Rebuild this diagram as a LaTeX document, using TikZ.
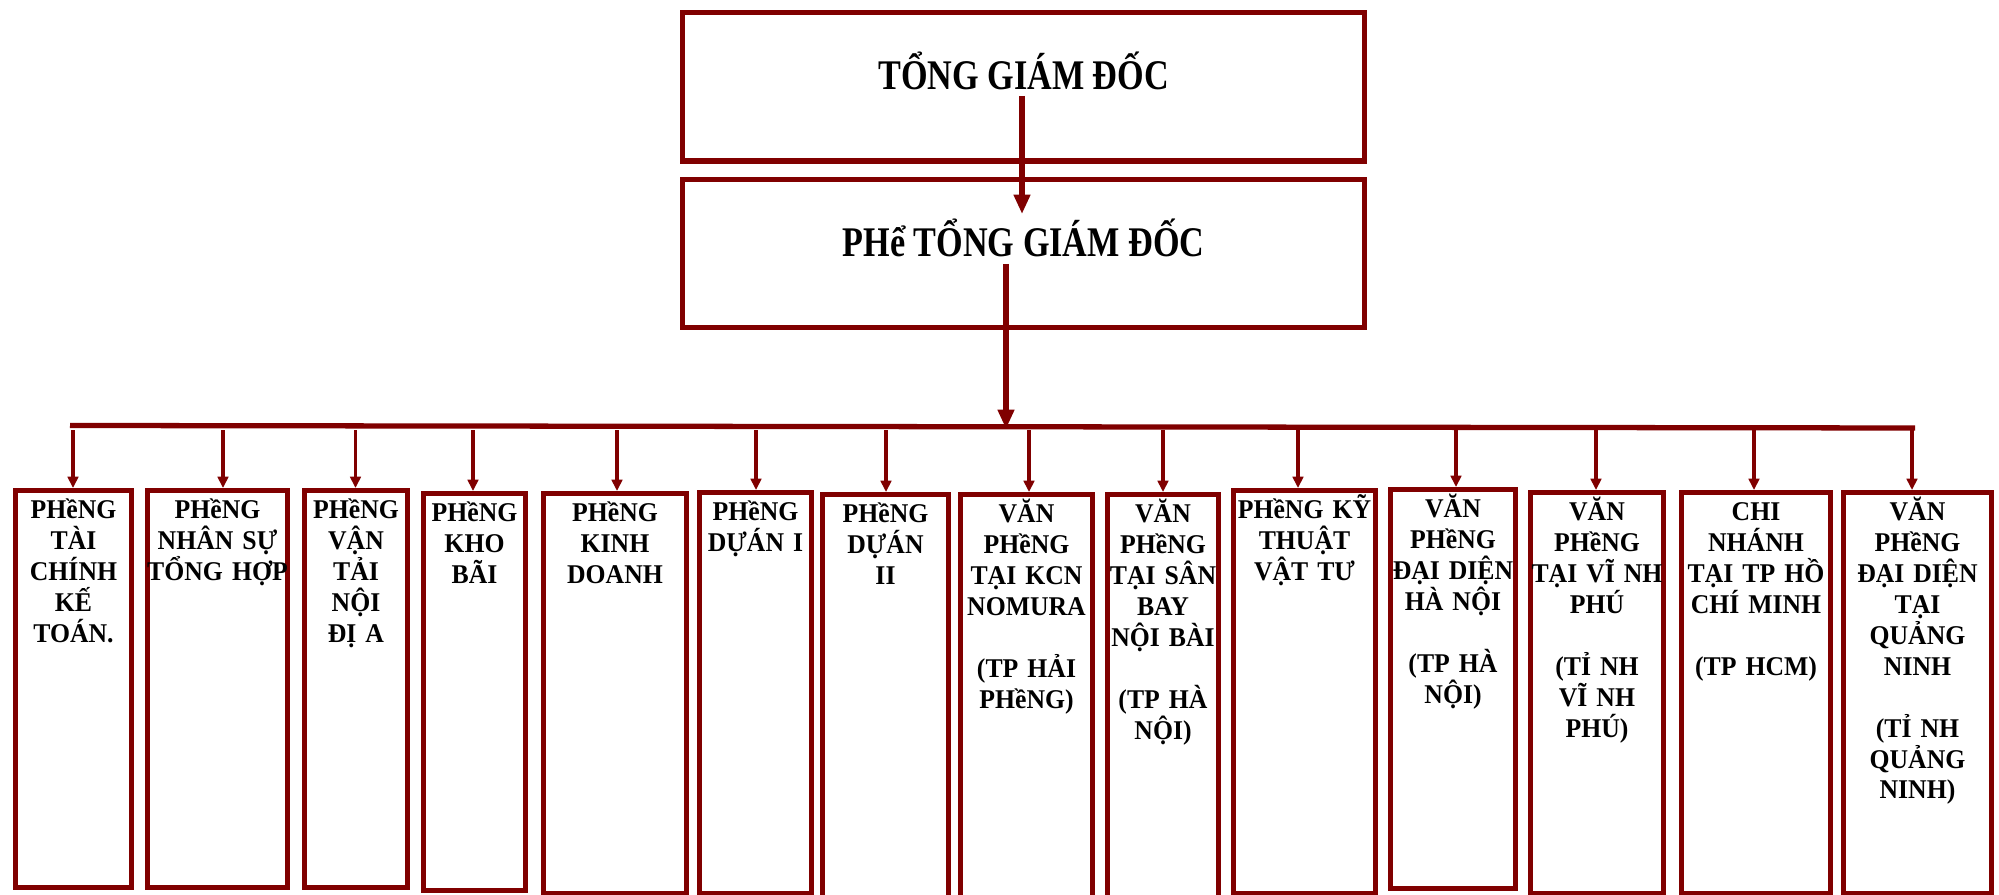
\documentclass[tikz,border=0pt]{standalone}
\usepackage{fontspec}
\setmainfont{Liberation Serif}
\newfontfamily\headfont{Liberation Serif}[FakeStretch=0.81]
\newfontfamily\deptfont{Liberation Serif}[FakeStretch=0.95]
\usetikzlibrary{arrows.meta,positioning,calc}
\definecolor{chartred}{RGB}{128,0,0}

\begin{document}
\begin{tikzpicture}[x=0.01cm, y=-0.01cm,
  headbox/.style={draw=chartred, line width=1.55pt, minimum width=6.82cm, inner sep=0pt,
                  text height=0.77cm, text depth=0.71cm,
                  font=\headfont\bfseries\fontsize{12}{14}\selectfont},
  dept/.style={draw=chartred, line width=1.4pt, anchor=north, inner xsep=-0.1cm, inner ysep=0.1cm,
               align=center, text height=0.18cm, text depth=#1,
               font=\deptfont\bfseries\fontsize{7.7}{8.8}\selectfont},
  mainarr/.style={draw=chartred, line width=1.5pt, -{Triangle[length=5.5pt,width=4.5pt]}},
  deptarr/.style={draw=chartred, line width=1.1pt, -{Triangle[length=3.2pt,width=3pt]}},
  bus/.style={draw=chartred, line width=1.5pt}
]
\useasboundingbox (0,0) rectangle (1999,895);
\clip (0,0) rectangle (1999,895);

% top of the chart
\node[headbox, anchor=north] (tgd) at (1023.5,10) {TỔNG GIÁM ĐỐC};
\node[headbox, below=0.13cm of tgd] (ptgd) {PHể TỔNG GIÁM ĐỐC};

\coordinate (tgdout) at (1022,96);
\coordinate (ptgdin) at (1022,214);
\coordinate (ptgdout) at (1006,264);
\coordinate (busL) at (70,425.5);
\coordinate (busR) at (1915,428);
\coordinate (busin) at (1006,429);

\draw[bus] (busL) -- (busR);
\draw[mainarr] (tgdout) -- (ptgdin);
\draw[mainarr] (ptgdout) -- (busin);

% departments (text width = box width + 0.2cm, inner xsep is -0.1cm)
\node[dept=3.59cm, text width=1.36cm] (d1) at (73.5,488) {PHềNG\\TÀI\\CHÍNH\\KẾ\\TOÁN.};
\node[dept=3.59cm, text width=1.60cm] (d2) at (217.5,488) {PHềNG\\NHÂN SỰ\\TỔNG HỢP};
\node[dept=3.59cm, text width=1.23cm] (d3) at (356,488) {PHềNG\\VẬN\\TẢI\\NỘI\\ĐỊ A};
\node[dept=3.59cm, text width=1.22cm] (d4) at (474.5,491) {PHềNG\\KHO\\BÃI};
\node[dept=3.62cm, text width=1.63cm] (d5) at (615,491) {PHềNG\\KINH\\DOANH};
\node[dept=3.63cm, text width=1.32cm] (d6) at (755.5,490) {PHềNG\\DỰÁN I};
\node[dept=3.9cm, text width=1.46cm] (d7) at (885.5,492) {PHềNG\\DỰÁN\\II};
\node[dept=3.9cm, text width=1.52cm] (d8) at (1026.5,492)
  {VĂN\\PHềNG\\TẠI KCN\\NOMURA\\[\baselineskip](TP HẢI\\PHềNG)};
\node[dept=3.9cm, text width=1.31cm] (d9) at (1163,492)
  {VĂN\\PHềNG\\TẠI SÂN\\BAY\\NỘI BÀI\\[\baselineskip](TP HÀ\\NỘI)};
\node[dept=3.65cm, text width=1.62cm] (d10) at (1304.5,488) {PHềNG KỸ\\THUẬT\\VẬT TƯ};
\node[dept=3.61cm, text width=1.45cm] (d11) at (1453,487)
  {VĂN\\PHềNG\\ĐẠI DIỆN\\HÀ NỘI\\[\baselineskip](TP HÀ\\NỘI)};
\node[dept=3.63cm, text width=1.53cm] (d12) at (1597,490)
  {VĂN\\PHềNG\\TẠI VĨ NH\\PHÚ\\[\baselineskip](TỈ NH\\VĨ NH\\PHÚ)};
\node[dept=3.63cm, text width=1.69cm] (d13) at (1756,490)
  {CHI\\NHÁNH\\TẠI TP HỒ\\CHÍ MINH\\[\baselineskip](TP HCM)};
\node[dept=3.63cm, text width=1.68cm] (d14) at (1917.5,490)
  {VĂN\\PHềNG\\ĐẠI DIỆN\\TẠI\\QUẢNG\\NINH\\[\baselineskip](TỈ NH\\QUẢNG\\NINH)};

\foreach \i/\dx in {1/-0.5,2/5.5,3/-0.5,4/-1.5,5/2,6/0.5,7/0.5,8/2.5,9/0,10/-6.5,11/3,12/-1,13/-2,14/-5.5}
  \draw[deptarr] ($(d\i.north |- busL)+(\dx,5)$) -- ($(d\i.north)+(\dx,0)$);
\end{tikzpicture}
\end{document}
